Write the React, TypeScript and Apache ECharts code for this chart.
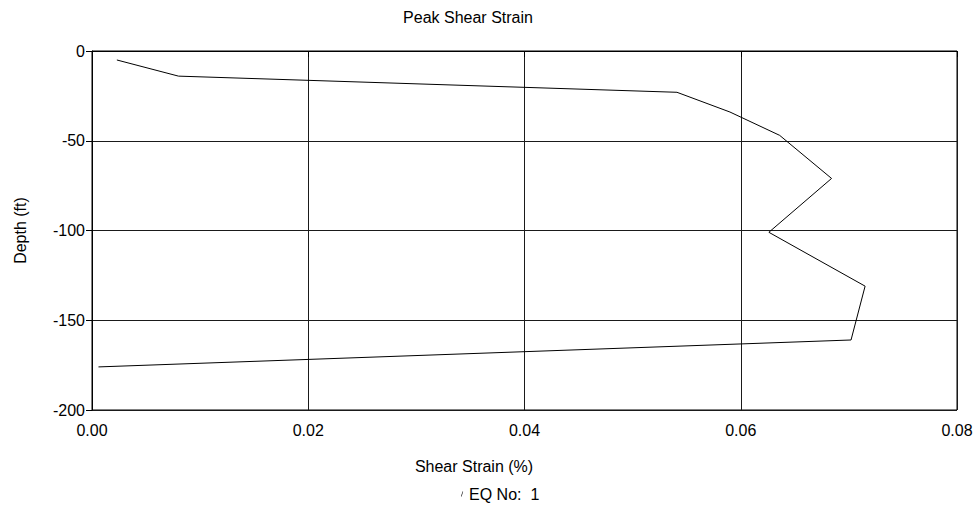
import React, { useEffect, useRef } from "react";
import * as echarts from "echarts";

const strain: number[] = [0.0023, 0.008, 0.0541, 0.059, 0.0636, 0.0684, 0.0626, 0.0715, 0.0702, 0.0006];
const depth: number[] = [-5, -14, -23, -34, -47, -71, -101, -131, -161, -176];
const xTicks = { min: 0, max: 0.08, interval: 0.02 };
const yTicks = { min: -200, max: 0, interval: 50 };
const seriesName = "EQ No:  1";
const titleText = "Peak Shear Strain";
const xName = "Shear Strain (%)";
const yName = "Depth (ft)";

const FONT = "'Liberation Sans', Arial, sans-serif";

export default function App() {
  const ref = useRef<HTMLDivElement>(null);
  useEffect(() => {
    if (!ref.current) return;
    const chart = echarts.init(ref.current, undefined, { renderer: "svg" });
    const data = strain.map((s, i) => [s, depth[i]]);
    chart.setOption({
      animation: false,
      backgroundColor: "#fff",
      textStyle: { fontFamily: FONT },
      grid: { left: 92, right: 23, top: 51, bottom: 97, show: true, borderColor: "#000", borderWidth: 1 },
      xAxis: {
        type: "value",
        min: xTicks.min,
        max: xTicks.max,
        interval: xTicks.interval,
        axisLine: { show: true, lineStyle: { color: "#000", width: 1 } },
        axisTick: { show: true, length: 6, lineStyle: { color: "#000" } },
        axisLabel: { color: "#000", fontSize: 16, fontFamily: FONT, margin: 12, formatter: (v: number) => v.toFixed(2) },
        splitLine: { show: true, lineStyle: { color: "#1a1a1a", width: 1 } },
      },
      yAxis: {
        type: "value",
        min: yTicks.min,
        max: yTicks.max,
        interval: yTicks.interval,
        name: yName,
        nameLocation: "middle",
        nameGap: 64,
        nameRotate: 90,
        nameTextStyle: { color: "#000", fontSize: 16, fontFamily: FONT },
        axisLine: { show: true, lineStyle: { color: "#000", width: 1 } },
        axisTick: { show: true, length: 6, lineStyle: { color: "#000" } },
        axisLabel: { color: "#000", fontSize: 16, fontFamily: FONT, margin: 7 },
        splitLine: { show: true, lineStyle: { color: "#1a1a1a", width: 1 } },
      },
      legend: {
        show: true,
        data: [{ name: seriesName, icon: "path://M0,10 L1.2,10 L4.2,0 L3,0 Z" }],
        left: 456,
        top: 481,
        itemWidth: 4,
        itemHeight: 5,
        itemGap: 6,
        itemStyle: { color: "#000" },
        textStyle: { color: "#000", fontSize: 16, fontFamily: FONT },
      },
      graphic: [
        {
          type: "text",
          x: 468,
          y: 9,
          style: { text: titleText, fill: "#000", font: `16px ${FONT}`, textAlign: "center" },
        },
        {
          type: "text",
          x: 474,
          y: 458,
          style: { text: xName, fill: "#000", font: `16px ${FONT}`, textAlign: "center" },
        },
      ],
      series: [
        {
          name: seriesName,
          type: "line",
          data,
          showSymbol: false,
          symbol: "none",
          lineStyle: { color: "#000", width: 1 },
          itemStyle: { color: "#000" },
        },
      ],
    });
    return () => chart.dispose();
  }, []);
  return <div ref={ref} style={{ width: 980, height: 507, position: "absolute", left: 0, top: 0 }} />;
}
